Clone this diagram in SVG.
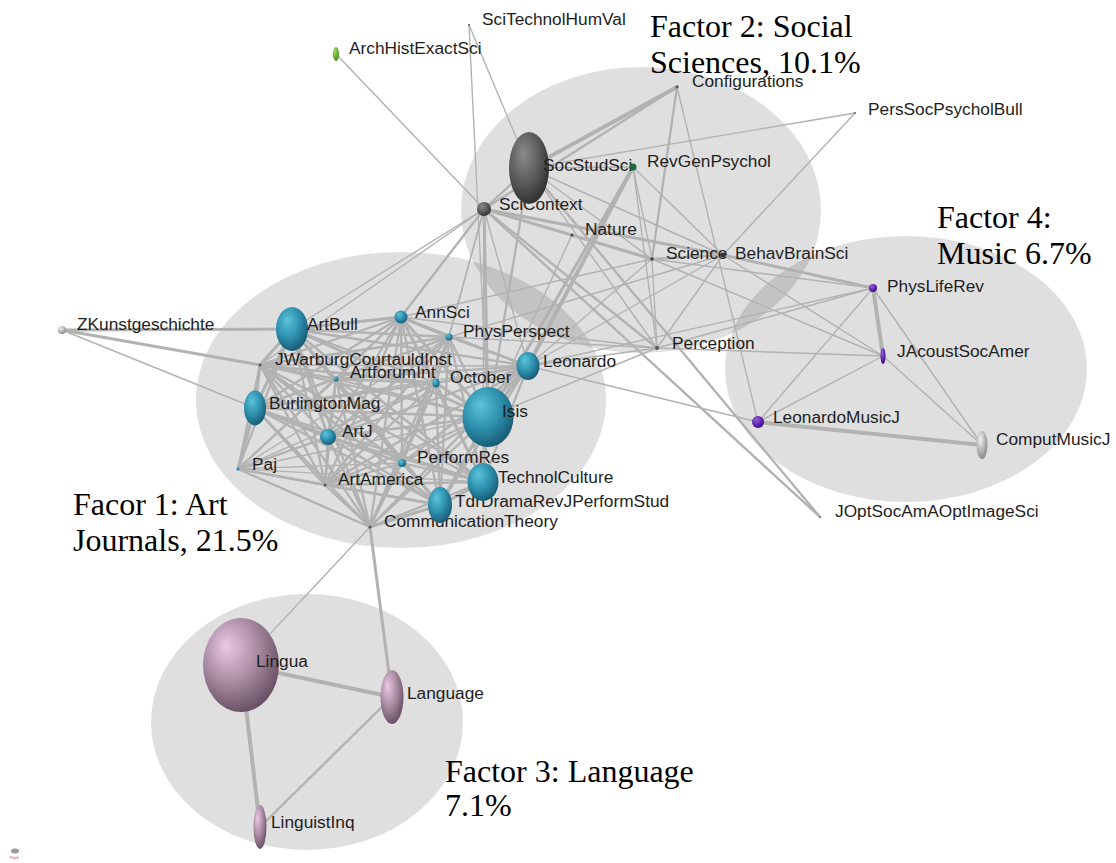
<svg xmlns="http://www.w3.org/2000/svg" width="1116" height="863" viewBox="0 0 1116 863">
<style>
.bg{fill:#000;fill-opacity:0.125}
.e line{stroke:#b2b2b2;stroke-linecap:round}
.a{stroke-width:1.4}
.b{stroke-width:2.3}
.c{stroke-width:3}
.d{stroke-width:4}
.lbl{font-family:"Liberation Sans",Arial,sans-serif;font-size:17.3px;fill:#1e1e1e}
.ttl{font-family:"Liberation Serif","Times New Roman",serif;font-size:32px;fill:#000}
.teal{fill:url(#gTeal)}
.dark{fill:url(#gDark)}
.mauve{fill:url(#gMauve)}
.purple{fill:url(#gPurple)}
.green{fill:url(#gGreen)}
.lgray{fill:url(#gLgray)}
</style>
<defs>
<radialGradient id="gTeal" cx="0.4" cy="0.35" r="0.65" fx="0.35" fy="0.3"><stop offset="0" stop-color="#5cc3da"/><stop offset="0.6" stop-color="#2b8dab"/><stop offset="1" stop-color="#1a5d77"/></radialGradient>
<radialGradient id="gDark" cx="0.4" cy="0.35" r="0.65" fx="0.35" fy="0.3"><stop offset="0" stop-color="#8c8c8c"/><stop offset="0.6" stop-color="#5a5a5a"/><stop offset="1" stop-color="#333"/></radialGradient>
<radialGradient id="gMauve" cx="0.4" cy="0.35" r="0.65" fx="0.3" fy="0.3"><stop offset="0" stop-color="#ecc8e6"/><stop offset="0.55" stop-color="#a98ca2"/><stop offset="1" stop-color="#6c5367"/></radialGradient>
<radialGradient id="gPurple" cx="0.4" cy="0.35" r="0.65" fx="0.35" fy="0.3"><stop offset="0" stop-color="#9a5ae8"/><stop offset="1" stop-color="#3c0c86"/></radialGradient>
<radialGradient id="gGreen" cx="0.4" cy="0.35" r="0.65" fx="0.35" fy="0.3"><stop offset="0" stop-color="#a6e060"/><stop offset="1" stop-color="#4a8c1a"/></radialGradient>
<radialGradient id="gLgray" cx="0.4" cy="0.35" r="0.65" fx="0.35" fy="0.3"><stop offset="0" stop-color="#f2f2f2"/><stop offset="1" stop-color="#8c8c8c"/></radialGradient>
</defs>
<rect width="1116" height="863" fill="#fff"/>
<g id="factor-regions">
<ellipse class="bg" cx="401" cy="400" rx="205" ry="148"/>
<ellipse class="bg" cx="641" cy="210" rx="180" ry="143"/>
<ellipse class="bg" cx="906" cy="369" rx="181" ry="133"/>
<ellipse class="bg" cx="307" cy="722" rx="156" ry="128"/>
</g>
<g id="connectors" class="e">
<line class="a" x1="469" y1="25" x2="488" y2="417"/>
<line class="a" x1="469" y1="25" x2="529" y2="168"/>
<line class="a" x1="336" y1="54" x2="484" y2="209"/>
<line class="d" x1="677" y1="87" x2="529" y2="168"/>
<line class="b" x1="677" y1="87" x2="484" y2="209"/>
<line class="b" x1="677" y1="87" x2="652" y2="259"/>
<line class="a" x1="677" y1="87" x2="758" y2="422"/>
<line class="a" x1="855" y1="113" x2="529" y2="168"/>
<line class="a" x1="855" y1="113" x2="723" y2="255"/>
<line class="d" x1="633" y1="167" x2="528" y2="366"/>
<line class="c" x1="633" y1="167" x2="488" y2="417"/>
<line class="a" x1="633" y1="167" x2="652" y2="259"/>
<line class="a" x1="633" y1="167" x2="723" y2="255"/>
<line class="a" x1="633" y1="167" x2="657" y2="348"/>
<line class="a" x1="633" y1="167" x2="529" y2="168"/>
<line class="b" x1="529" y1="168" x2="484" y2="209"/>
<line class="a" x1="529" y1="168" x2="652" y2="259"/>
<line class="a" x1="529" y1="168" x2="723" y2="255"/>
<line class="a" x1="529" y1="168" x2="657" y2="348"/>
<line class="b" x1="529" y1="168" x2="820" y2="517"/>
<line class="b" x1="529" y1="168" x2="488" y2="417"/>
<line class="a" x1="484" y1="209" x2="572" y2="235"/>
<line class="c" x1="484" y1="209" x2="652" y2="259"/>
<line class="c" x1="484" y1="209" x2="723" y2="255"/>
<line class="b" x1="484" y1="209" x2="657" y2="348"/>
<line class="b" x1="484" y1="209" x2="401" y2="317"/>
<line class="a" x1="484" y1="209" x2="292" y2="329"/>
<line class="a" x1="484" y1="209" x2="449" y2="337"/>
<line class="a" x1="484" y1="209" x2="436" y2="383"/>
<line class="c" x1="484" y1="209" x2="488" y2="417"/>
<line class="a" x1="484" y1="209" x2="528" y2="366"/>
<line class="a" x1="484" y1="209" x2="260" y2="365"/>
<line class="a" x1="484" y1="209" x2="483" y2="482"/>
<line class="b" x1="484" y1="209" x2="820" y2="517"/>
<line class="b" x1="572" y1="235" x2="652" y2="259"/>
<line class="a" x1="572" y1="235" x2="488" y2="417"/>
<line class="b" x1="652" y1="259" x2="723" y2="255"/>
<line class="a" x1="652" y1="259" x2="657" y2="348"/>
<line class="a" x1="652" y1="259" x2="873" y2="288"/>
<line class="a" x1="652" y1="259" x2="883" y2="356"/>
<line class="a" x1="652" y1="259" x2="401" y2="317"/>
<line class="a" x1="652" y1="259" x2="528" y2="366"/>
<line class="c" x1="723" y1="255" x2="873" y2="288"/>
<line class="a" x1="723" y1="255" x2="883" y2="356"/>
<line class="a" x1="723" y1="255" x2="528" y2="366"/>
<line class="a" x1="723" y1="255" x2="449" y2="337"/>
<line class="a" x1="723" y1="255" x2="657" y2="348"/>
<line class="a" x1="657" y1="348" x2="449" y2="337"/>
<line class="a" x1="657" y1="348" x2="528" y2="366"/>
<line class="a" x1="657" y1="348" x2="401" y2="317"/>
<line class="a" x1="657" y1="348" x2="883" y2="356"/>
<line class="a" x1="657" y1="348" x2="873" y2="288"/>
<line class="a" x1="657" y1="348" x2="488" y2="417"/>
<line class="a" x1="528" y1="366" x2="758" y2="422"/>
<line class="a" x1="528" y1="366" x2="873" y2="288"/>
<line class="d" x1="873" y1="288" x2="883" y2="356"/>
<line class="a" x1="873" y1="288" x2="758" y2="422"/>
<line class="a" x1="873" y1="288" x2="982" y2="445"/>
<line class="a" x1="883" y1="356" x2="758" y2="422"/>
<line class="a" x1="883" y1="356" x2="982" y2="445"/>
<line class="d" x1="758" y1="422" x2="982" y2="445"/>
<line class="c" x1="62" y1="330" x2="292" y2="329"/>
<line class="c" x1="62" y1="330" x2="260" y2="365"/>
<line class="a" x1="62" y1="330" x2="255" y2="408"/>
<line class="a" x1="370" y1="527" x2="241" y2="665"/>
<line class="c" x1="370" y1="527" x2="392" y2="697"/>
<line class="d" x1="241" y1="665" x2="392" y2="697"/>
<line class="d" x1="241" y1="665" x2="260" y2="827"/>
<line class="b" x1="392" y1="697" x2="260" y2="827"/>
<line class="c" x1="292" y1="329" x2="260" y2="365"/>
<line class="c" x1="292" y1="329" x2="401" y2="317"/>
<line class="b" x1="292" y1="329" x2="449" y2="337"/>
<line class="b" x1="292" y1="329" x2="336" y2="379"/>
<line class="b" x1="292" y1="329" x2="436" y2="383"/>
<line class="b" x1="292" y1="329" x2="528" y2="366"/>
<line class="c" x1="292" y1="329" x2="255" y2="408"/>
<line class="c" x1="292" y1="329" x2="488" y2="417"/>
<line class="c" x1="292" y1="329" x2="328" y2="437"/>
<line class="b" x1="292" y1="329" x2="402" y2="463"/>
<line class="b" x1="292" y1="329" x2="238" y2="469"/>
<line class="b" x1="292" y1="329" x2="325" y2="485"/>
<line class="b" x1="292" y1="329" x2="483" y2="482"/>
<line class="b" x1="292" y1="329" x2="440" y2="505"/>
<line class="b" x1="292" y1="329" x2="370" y2="527"/>
<line class="b" x1="260" y1="365" x2="401" y2="317"/>
<line class="b" x1="260" y1="365" x2="449" y2="337"/>
<line class="b" x1="260" y1="365" x2="336" y2="379"/>
<line class="b" x1="260" y1="365" x2="436" y2="383"/>
<line class="a" x1="260" y1="365" x2="528" y2="366"/>
<line class="c" x1="260" y1="365" x2="255" y2="408"/>
<line class="b" x1="260" y1="365" x2="488" y2="417"/>
<line class="b" x1="260" y1="365" x2="328" y2="437"/>
<line class="b" x1="260" y1="365" x2="402" y2="463"/>
<line class="b" x1="260" y1="365" x2="238" y2="469"/>
<line class="b" x1="260" y1="365" x2="325" y2="485"/>
<line class="b" x1="260" y1="365" x2="483" y2="482"/>
<line class="b" x1="260" y1="365" x2="440" y2="505"/>
<line class="b" x1="260" y1="365" x2="370" y2="527"/>
<line class="c" x1="401" y1="317" x2="449" y2="337"/>
<line class="b" x1="401" y1="317" x2="336" y2="379"/>
<line class="b" x1="401" y1="317" x2="436" y2="383"/>
<line class="b" x1="401" y1="317" x2="528" y2="366"/>
<line class="b" x1="401" y1="317" x2="255" y2="408"/>
<line class="c" x1="401" y1="317" x2="488" y2="417"/>
<line class="b" x1="401" y1="317" x2="328" y2="437"/>
<line class="b" x1="401" y1="317" x2="402" y2="463"/>
<line class="a" x1="401" y1="317" x2="238" y2="469"/>
<line class="b" x1="401" y1="317" x2="325" y2="485"/>
<line class="b" x1="401" y1="317" x2="483" y2="482"/>
<line class="b" x1="401" y1="317" x2="440" y2="505"/>
<line class="b" x1="401" y1="317" x2="370" y2="527"/>
<line class="b" x1="449" y1="337" x2="336" y2="379"/>
<line class="b" x1="449" y1="337" x2="436" y2="383"/>
<line class="b" x1="449" y1="337" x2="528" y2="366"/>
<line class="b" x1="449" y1="337" x2="255" y2="408"/>
<line class="b" x1="449" y1="337" x2="488" y2="417"/>
<line class="b" x1="449" y1="337" x2="328" y2="437"/>
<line class="b" x1="449" y1="337" x2="402" y2="463"/>
<line class="a" x1="449" y1="337" x2="238" y2="469"/>
<line class="b" x1="449" y1="337" x2="325" y2="485"/>
<line class="b" x1="449" y1="337" x2="483" y2="482"/>
<line class="b" x1="449" y1="337" x2="440" y2="505"/>
<line class="b" x1="449" y1="337" x2="370" y2="527"/>
<line class="b" x1="336" y1="379" x2="436" y2="383"/>
<line class="b" x1="336" y1="379" x2="528" y2="366"/>
<line class="b" x1="336" y1="379" x2="255" y2="408"/>
<line class="b" x1="336" y1="379" x2="488" y2="417"/>
<line class="b" x1="336" y1="379" x2="328" y2="437"/>
<line class="b" x1="336" y1="379" x2="402" y2="463"/>
<line class="b" x1="336" y1="379" x2="238" y2="469"/>
<line class="b" x1="336" y1="379" x2="325" y2="485"/>
<line class="b" x1="336" y1="379" x2="483" y2="482"/>
<line class="b" x1="336" y1="379" x2="440" y2="505"/>
<line class="b" x1="336" y1="379" x2="370" y2="527"/>
<line class="b" x1="436" y1="383" x2="528" y2="366"/>
<line class="b" x1="436" y1="383" x2="255" y2="408"/>
<line class="c" x1="436" y1="383" x2="488" y2="417"/>
<line class="b" x1="436" y1="383" x2="328" y2="437"/>
<line class="b" x1="436" y1="383" x2="402" y2="463"/>
<line class="a" x1="436" y1="383" x2="238" y2="469"/>
<line class="b" x1="436" y1="383" x2="325" y2="485"/>
<line class="b" x1="436" y1="383" x2="483" y2="482"/>
<line class="b" x1="436" y1="383" x2="440" y2="505"/>
<line class="b" x1="436" y1="383" x2="370" y2="527"/>
<line class="a" x1="528" y1="366" x2="255" y2="408"/>
<line class="c" x1="528" y1="366" x2="488" y2="417"/>
<line class="b" x1="528" y1="366" x2="328" y2="437"/>
<line class="b" x1="528" y1="366" x2="402" y2="463"/>
<line class="a" x1="528" y1="366" x2="238" y2="469"/>
<line class="b" x1="528" y1="366" x2="325" y2="485"/>
<line class="b" x1="528" y1="366" x2="483" y2="482"/>
<line class="b" x1="528" y1="366" x2="440" y2="505"/>
<line class="b" x1="528" y1="366" x2="370" y2="527"/>
<line class="b" x1="255" y1="408" x2="488" y2="417"/>
<line class="c" x1="255" y1="408" x2="328" y2="437"/>
<line class="b" x1="255" y1="408" x2="402" y2="463"/>
<line class="c" x1="255" y1="408" x2="238" y2="469"/>
<line class="b" x1="255" y1="408" x2="325" y2="485"/>
<line class="b" x1="255" y1="408" x2="483" y2="482"/>
<line class="b" x1="255" y1="408" x2="440" y2="505"/>
<line class="b" x1="255" y1="408" x2="370" y2="527"/>
<line class="b" x1="488" y1="417" x2="328" y2="437"/>
<line class="b" x1="488" y1="417" x2="402" y2="463"/>
<line class="a" x1="488" y1="417" x2="238" y2="469"/>
<line class="b" x1="488" y1="417" x2="325" y2="485"/>
<line class="c" x1="488" y1="417" x2="483" y2="482"/>
<line class="c" x1="488" y1="417" x2="440" y2="505"/>
<line class="b" x1="488" y1="417" x2="370" y2="527"/>
<line class="b" x1="328" y1="437" x2="402" y2="463"/>
<line class="b" x1="328" y1="437" x2="238" y2="469"/>
<line class="b" x1="328" y1="437" x2="325" y2="485"/>
<line class="b" x1="328" y1="437" x2="483" y2="482"/>
<line class="b" x1="328" y1="437" x2="440" y2="505"/>
<line class="b" x1="328" y1="437" x2="370" y2="527"/>
<line class="a" x1="402" y1="463" x2="238" y2="469"/>
<line class="b" x1="402" y1="463" x2="325" y2="485"/>
<line class="b" x1="402" y1="463" x2="483" y2="482"/>
<line class="b" x1="402" y1="463" x2="440" y2="505"/>
<line class="b" x1="402" y1="463" x2="370" y2="527"/>
<line class="b" x1="238" y1="469" x2="325" y2="485"/>
<line class="a" x1="238" y1="469" x2="483" y2="482"/>
<line class="b" x1="238" y1="469" x2="440" y2="505"/>
<line class="b" x1="238" y1="469" x2="370" y2="527"/>
<line class="b" x1="325" y1="485" x2="483" y2="482"/>
<line class="b" x1="325" y1="485" x2="440" y2="505"/>
<line class="b" x1="325" y1="485" x2="370" y2="527"/>
<line class="c" x1="483" y1="482" x2="440" y2="505"/>
<line class="b" x1="483" y1="482" x2="370" y2="527"/>
<line class="c" x1="440" y1="505" x2="370" y2="527"/>
</g>
<g id="n-scitechnolhumval"><circle cx="469" cy="25" r="1" fill="#666"/><text class="lbl" x="482" y="25">SciTechnolHumVal</text></g>
<g id="n-archhistexactsci"><ellipse class="green" cx="336" cy="54" rx="3" ry="7"/><text class="lbl" x="349" y="54">ArchHistExactSci</text></g>
<g id="n-configurations"><circle cx="677" cy="87" r="1.5" fill="#555"/><text class="lbl" x="692" y="87">Configurations</text></g>
<g id="n-perssocpsycholbull"><circle cx="855" cy="113" r="1" fill="#777"/><text class="lbl" x="868" y="115">PersSocPsycholBull</text></g>
<g id="n-scicontext"><circle class="dark" cx="484" cy="209" r="7"/><text class="lbl" x="499" y="210">SciContext</text></g>
<g id="n-socstudsci"><ellipse class="dark" cx="529" cy="168" rx="20" ry="36"/><text class="lbl" x="543" y="171">SocStudSci</text></g>
<g id="n-revgenpsychol"><circle cx="633" cy="167" r="3.5" fill="#1d6a3c"/><text class="lbl" x="647" y="167">RevGenPsychol</text></g>
<g id="n-nature"><circle cx="572" cy="235" r="1.5" fill="#444"/><text class="lbl" x="585" y="235">Nature</text></g>
<g id="n-science"><circle cx="652" cy="259" r="1.8" fill="#444"/><text class="lbl" x="666" y="259">Science</text></g>
<g id="n-behavbrainsci"><circle cx="723" cy="255" r="2.6" fill="#333"/><text class="lbl" x="735" y="259">BehavBrainSci</text></g>
<g id="n-perception"><circle cx="657" cy="348" r="2" fill="#555"/><text class="lbl" x="672" y="349">Perception</text></g>
<g id="n-physliferev"><circle class="purple" cx="873" cy="288" r="4"/><text class="lbl" x="887" y="292">PhysLifeRev</text></g>
<g id="n-jacoustsocamer"><ellipse class="purple" cx="883" cy="356" rx="2.5" ry="8"/><text class="lbl" x="897" y="357">JAcoustSocAmer</text></g>
<g id="n-leonardomusicj"><circle class="purple" cx="758" cy="422" r="6"/><text class="lbl" x="773" y="423">LeonardoMusicJ</text></g>
<g id="n-computmusicj"><ellipse class="lgray" cx="982" cy="445" rx="5.5" ry="14"/><text class="lbl" x="996" y="445">ComputMusicJ</text></g>
<g id="n-joptsocamaoptimagesci"><circle cx="820" cy="517" r="1" fill="#777"/><text class="lbl" x="835" y="517">JOptSocAmAOptImageSci</text></g>
<g id="n-zkunstgeschichte"><circle class="lgray" cx="62" cy="330" r="4"/><text class="lbl" x="77" y="330">ZKunstgeschichte</text></g>
<g id="n-artbull"><ellipse class="teal" cx="292" cy="329" rx="16" ry="22"/><text class="lbl" x="307" y="330">ArtBull</text></g>
<g id="n-jwarburgcourtauldinst"><circle cx="260" cy="365" r="1.5" fill="#555"/><text class="lbl" x="275" y="365">JWarburgCourtauldInst</text></g>
<g id="n-annsci"><circle class="teal" cx="401" cy="317" r="6.5"/><text class="lbl" x="415" y="318">AnnSci</text></g>
<g id="n-physperspect"><circle class="teal" cx="449" cy="337" r="3.5"/><text class="lbl" x="463" y="337">PhysPerspect</text></g>
<g id="n-artforumint"><circle class="teal" cx="336" cy="379" r="2.5"/><text class="lbl" x="350" y="378">ArtforumInt</text></g>
<g id="n-october"><ellipse class="teal" cx="436" cy="383" rx="3.5" ry="4.5"/><text class="lbl" x="450" y="383">October</text></g>
<g id="n-leonardo"><ellipse class="teal" cx="528" cy="366" rx="11.5" ry="14"/><text class="lbl" x="543" y="367">Leonardo</text></g>
<g id="n-burlingtonmag"><ellipse class="teal" cx="255" cy="408" rx="11" ry="17.5"/><text class="lbl" x="269" y="409">BurlingtonMag</text></g>
<g id="n-isis"><ellipse class="teal" cx="488" cy="417" rx="25.5" ry="30"/><text class="lbl" x="502" y="417">Isis</text></g>
<g id="n-artj"><circle class="teal" cx="328" cy="437" r="8"/><text class="lbl" x="342" y="437">ArtJ</text></g>
<g id="n-performres"><circle class="teal" cx="402" cy="463" r="4"/><text class="lbl" x="417" y="463">PerformRes</text></g>
<g id="n-paj"><circle cx="238" cy="469" r="1.5" fill="#2d8eab"/><text class="lbl" x="252" y="470">Paj</text></g>
<g id="n-artamerica"><circle cx="325" cy="485" r="1.5" fill="#555"/><text class="lbl" x="338" y="485">ArtAmerica</text></g>
<g id="n-communicationtheory"><circle cx="370" cy="527" r="1.5" fill="#555"/><text class="lbl" x="384" y="527">CommunicationTheory</text></g>
<g id="n-tdrdramarevjperformstud"><ellipse class="teal" cx="440" cy="505" rx="12" ry="18"/><text class="lbl" x="455" y="507">TdrDramaRevJPerformStud</text></g>
<g id="n-technolculture"><ellipse class="teal" cx="483" cy="482" rx="15.5" ry="19"/><text class="lbl" x="498" y="483">TechnolCulture</text></g>
<g id="n-lingua"><ellipse class="mauve" cx="241" cy="665" rx="38" ry="47"/><text class="lbl" x="256" y="667">Lingua</text></g>
<g id="n-language"><ellipse class="mauve" cx="392" cy="697" rx="11.5" ry="27"/><text class="lbl" x="407" y="699">Language</text></g>
<g id="n-linguistinq"><ellipse class="mauve" cx="260" cy="827" rx="6.5" ry="22"/><text class="lbl" x="271" y="828">LinguistInq</text></g>
<g id="titles">
<text class="ttl" x="650" y="37">Factor 2: Social</text>
<text class="ttl" x="650" y="73">Sciences, 10.1%</text>
<text class="ttl" x="937" y="228">Factor 4:</text>
<text class="ttl" x="937" y="264">Music 6.7%</text>
<text class="ttl" x="73" y="515">Facor 1: Art</text>
<text class="ttl" x="73" y="551">Journals, 21.5%</text>
<text class="ttl" x="445" y="782">Factor 3: Language</text>
<text class="ttl" x="445" y="816">7.1%</text>
</g>
<g id="logo">
<ellipse cx="15" cy="851" rx="4" ry="2.5" fill="#9a9a9a"/>
<text x="10" y="859" font-family="Liberation Sans, sans-serif" font-size="3.5" fill="#d03030">Pajek</text>
</g>
</svg>
